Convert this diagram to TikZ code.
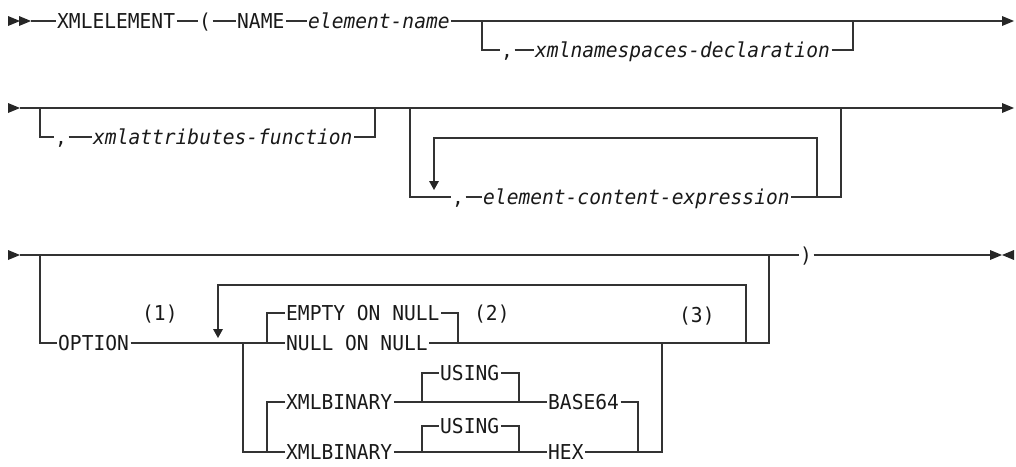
\documentclass[tikz,border=0pt]{standalone}
\usepackage{fontspec}
\setmonofont{DejaVu Sans Mono}[FakeStretch=0.955]
\usepackage{tikz}

\tikzset{
  rail/.style = {line width=1.1pt, draw=black!80},
  kw/.style = {font=\fontsize{20.5}{21}\selectfont\ttfamily, inner xsep=1.5pt, inner ysep=0pt,
               text height=14.9pt, text depth=0pt, anchor=west, text=black!90},
  var/.style = {kw, font=\fontsize{20.5}{21}\selectfont\ttfamily\itshape},
}
% filled tips: right, left, down (tip at the given point)
\newcommand\tipright[1]{\fill[black!85] (#1) -- ++(-12,-5) -- ++(0,10) -- cycle;}
\newcommand\tipleft[1]{\fill[black!85] (#1) -- ++(12,-5) -- ++(0,10) -- cycle;}
\newcommand\tipdown[1]{\fill[black!85] (#1) -- ++(-5,-9) -- ++(10,0) -- cycle;}

\begin{document}
\begin{tikzpicture}[x=1pt, y=-1pt]
        \useasboundingbox (0,0) rectangle (1016,466);

        % first line
        \coordinate (s1) at (31,21);
        \coordinate (e1) at (1003,21);
        \coordinate (b1a) at (482,21);
        \coordinate (b1b) at (853,21);
        \node[kw] (xmlel) at (55.5,21) {XMLELEMENT};
        \node[kw] (lpar) at (197.5,21) {(};
        \node[kw] (name) at (235.5,21) {NAME};
        \node[var] (elname) at (306.5,21) {element-name};
        \node[kw] (c1) at (499.5,50) {,};
        \node[var] (nsdecl) at (533.5,50) {xmlnamespaces-declaration};

        \tipright{20,21}
        \tipright{31,21}
        \draw[rail] (s1) -- (xmlel) -- (lpar) -- (name) -- (elname) -- (e1);
        \tipright{1014,21}
        \draw[rail] (b1a) |- (c1.west);
        \draw[rail] (c1) -- (nsdecl);
        \draw[rail] (nsdecl.east) -| (b1b);

        % second line
        \coordinate (s2) at (20,108);
        \coordinate (e2) at (1003,108);
        \coordinate (b2a) at (40,108);
        \coordinate (b2b) at (375,108);
        \coordinate (b3a) at (410,108);
        \coordinate (b3b) at (841,108);
        \coordinate (lp1) at (434,138);
        \coordinate (lp2) at (817,138);
        \node[kw] (c2) at (53.5,137) {,};
        \node[var] (attrfn) at (91.5,137) {xmlattributes-function};
        \node[kw] (c3) at (450.5,197) {,};
        \node[var] (content) at (481.5,197) {element-content-expression};

        \tipright{20,108}
        \draw[rail] (s2) -- (e2);
        \tipright{1014,108}
        \draw[rail] (b2a) |- (c2.west);
        \draw[rail] (c2) -- (attrfn);
        \draw[rail] (attrfn.east) -| (b2b);
        \draw[rail] (b3a) |- (c3.west);
        \draw[rail] (c3) -- (content);
        \draw[rail] (content.east) -| (b3b);
        \draw[rail] (lp2 |- content.east) |- (lp1) -- ++(0,44);
        \tipdown{434,190}

        % third line
        \coordinate (s3) at (20,255);
        \coordinate (e3) at (990,255);
        \coordinate (o1) at (40,255);
        \coordinate (o2) at (769,255);
        \coordinate (ch) at (243,343);
        \coordinate (br) at (267,343);
        \coordinate (er) at (458,343);
        \coordinate (loopl) at (218,285);
        \coordinate (loopr) at (746,285);
        \coordinate (ua) at (422,402);
        \coordinate (ub) at (519,402);
        \coordinate (uc) at (422,452);
        \coordinate (ud) at (519,452);
        \coordinate (r1) at (638,452);
        \coordinate (r2) at (662,343);
        \node[kw] (rpar) at (798.5,255) {)};
        \node[kw] (option) at (56.5,343) {OPTION};
        \node[kw] (n1) at (140.5,313) {(1)};
        \node[kw] (empty) at (284.5,313) {EMPTY ON NULL};
        \node[kw] (nullon) at (284.5,343) {NULL ON NULL};
        \node[kw] (n2) at (472.5,313) {(2)};
        \node[kw] (n3) at (677.5,315) {(3)};
        \node[kw] (xb1) at (284.5,402) {XMLBINARY};
        \node[kw] (using1) at (438.5,373) {USING};
        \node[kw] (b64) at (546.5,402) {BASE64};
        \node[kw] (xb2) at (284.5,452) {XMLBINARY};
        \node[kw] (using2) at (438.5,426) {USING};
        \node[kw] (hex) at (546.5,452) {HEX};

        \tipright{20,255}
        \draw[rail] (s3) -- (rpar) -- (e3);
        \tipright{1002,255}
        \tipleft{1002,255}
        \draw[rail] (o1) |- (option.west);
        \draw[rail] (option) -- (ch) -- (nullon);
        \draw[rail] (nullon.east) -| (o2);
        \draw[rail] (br) |- (empty.west);
        \draw[rail] (empty.east) -| (er);
        \draw[rail] (loopr |- nullon) |- (loopl) -- ++(0,44);
        \tipdown{218,338}
        \draw[rail] (ch) |- (xb2.west);
        \draw[rail] (br |- xb2) |- (xb1.west);
        \draw[rail] (xb1) -- (b64);
        \draw[rail] (ua) |- (using1.west);
        \draw[rail] (using1.east) -| (ub);
        \draw[rail] (b64.east) -| (r1);
        \draw[rail] (xb2) -- (hex);
        \draw[rail] (uc) |- (using2.west);
        \draw[rail] (using2.east) -| (ud);
        \draw[rail] (hex.east) -| (r2);
\end{tikzpicture}
\end{document}
